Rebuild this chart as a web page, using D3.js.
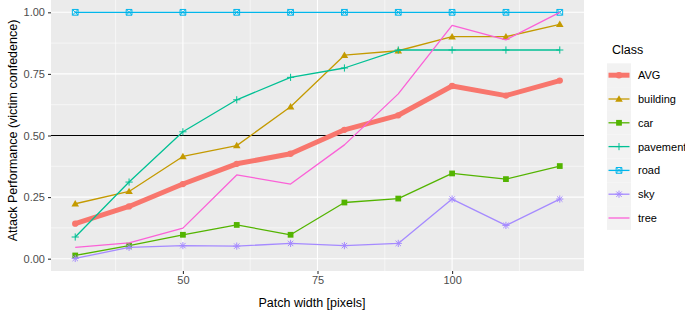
<!DOCTYPE html>
<html><head><meta charset="utf-8">
<script src="https://cdn.jsdelivr.net/npm/d3@7"></script>
<style>body{margin:0;background:#fff}svg{display:block;font-family:"Liberation Sans",Arial,sans-serif}</style>
</head><body><svg id="c" width="685" height="311"></svg>
<script>
const xValues = [30, 40, 50, 60, 70, 80, 90, 100, 110, 120];
const classes = ["AVG", "building", "car", "pavement", "road", "sky", "tree"];
const colors = ["#F8766D", "#C49A00", "#53B400", "#00C094", "#00B6EB", "#A58AFF", "#FB61D7"];
const shapes = ["circle", "triangle", "square", "plus", "squarecross", "asterisk", "none"];
const avgValues      = [0.142, 0.212, 0.303, 0.385, 0.426, 0.523, 0.582, 0.701, 0.662, 0.723];
const buildingValues = [0.223, 0.273, 0.415, 0.459, 0.617, 0.826, 0.844, 0.901, 0.901, 0.951];
const carValues      = [0.013, 0.053, 0.097, 0.137, 0.097, 0.228, 0.244, 0.346, 0.323, 0.376];
const pavementValues = [0.088, 0.311, 0.515, 0.645, 0.736, 0.774, 0.847, 0.847, 0.847, 0.847];
const roadValues     = [1, 1, 1, 1, 1, 1, 1, 1, 1, 1];
const skyValues      = [0.001, 0.046, 0.053, 0.051, 0.062, 0.053, 0.062, 0.242, 0.135, 0.242];
const treeValues     = [0.046, 0.064, 0.124, 0.340, 0.303, 0.462, 0.669, 0.947, 0.888, 1.0];
const seriesValues = [avgValues, buildingValues, carValues, pavementValues, roadValues, skyValues, treeValues];
const xTicks = [50, 75, 100];
const xMinor = [37.5, 62.5, 87.5, 112.5];
const yTicks = [0, 0.25, 0.5, 0.75, 1];
const yTickLabels = ["0.00", "0.25", "0.50", "0.75", "1.00"];
const yMinor = [0.125, 0.375, 0.625, 0.875];
const refLine = 0.5;

const svg = d3.select("#c");
const P = {l: 51, r: 584, t: 0, b: 271};
const x = d3.scaleLinear().domain([25.5, 124.5]).range([P.l, P.r]);
const y = d3.scaleLinear().domain([-0.05, 1.05]).range([P.b, P.t]);

svg.append("rect").attr("x", P.l).attr("y", P.t).attr("width", P.r - P.l).attr("height", P.b - P.t).attr("fill", "#EBEBEB");
const g = svg.append("g");
xMinor.forEach(v => g.append("line").attr("x1", x(v)).attr("x2", x(v)).attr("y1", P.t).attr("y2", P.b).attr("stroke", "#fff").attr("stroke-width", 0.55));
yMinor.forEach(v => g.append("line").attr("y1", y(v)).attr("y2", y(v)).attr("x1", P.l).attr("x2", P.r).attr("stroke", "#fff").attr("stroke-width", 0.55));
xTicks.forEach(v => g.append("line").attr("x1", x(v)).attr("x2", x(v)).attr("y1", P.t).attr("y2", P.b).attr("stroke", "#fff").attr("stroke-width", 1.1));
yTicks.forEach(v => g.append("line").attr("y1", y(v)).attr("y2", y(v)).attr("x1", P.l).attr("x2", P.r).attr("stroke", "#fff").attr("stroke-width", 1.1));

// axes
const xAxis = d3.axisBottom(x).tickValues(xTicks).tickSize(3).tickPadding(2).tickFormat(d3.format("d"));
const xa = svg.append("g").attr("transform", `translate(0,${P.b})`).call(xAxis);
xa.select(".domain").remove();
xa.selectAll("line").attr("stroke", "#333").attr("stroke-width", 1.1);
xa.selectAll("text").attr("fill", "#4D4D4D").style("font-size", "11px").style("font-family", "Liberation Sans, Arial, sans-serif");
const yAxis = d3.axisLeft(y).tickValues(yTicks).tickSize(3).tickPadding(3).tickFormat((d, i) => yTickLabels[i]);
const ya = svg.append("g").attr("transform", `translate(${P.l},0)`).call(yAxis);
ya.select(".domain").remove();
ya.selectAll("line").attr("stroke", "#333").attr("stroke-width", 1.1);
ya.selectAll("text").attr("fill", "#4D4D4D").style("font-size", "11px").style("font-family", "Liberation Sans, Arial, sans-serif");

// reference line
svg.append("line").attr("x1", P.l).attr("x2", P.r).attr("y1", y(refLine)).attr("y2", y(refLine)).attr("stroke", "#000").attr("stroke-width", 1.1);

function marker(sel, shape, color, cx, cy, s) {
  const gg = sel.append("g").attr("transform", `translate(${cx},${cy})`);
  if (shape === "circle") gg.append("circle").attr("r", s * 0.9).attr("fill", color);
  else if (shape === "triangle") gg.append("path").attr("d", `M0,${-s * 1.05}L${s * 1.05},${s * 0.75}L${-s * 1.05},${s * 0.75}Z`).attr("fill", color);
  else if (shape === "square") gg.append("rect").attr("x", -s * 0.8).attr("y", -s * 0.8).attr("width", s * 1.6).attr("height", s * 1.6).attr("fill", color);
  else if (shape === "plus") gg.append("path").attr("d", `M${-s},0H${s}M0,${-s}V${s}`).attr("stroke", color).attr("stroke-width", 1).attr("fill", "none");
  else if (shape === "squarecross") { const a = s * 0.8; gg.append("path").attr("d", `M${-a},${-a}H${a}V${a}H${-a}ZM${-a},${-a}L${a},${a}M${a},${-a}L${-a},${a}`).attr("stroke", color).attr("stroke-width", 1).attr("fill", "none"); }
  else if (shape === "asterisk") { const a = s * 0.75; gg.append("path").attr("d", `M${-s},0H${s}M0,${-s}V${s}M${-a},${-a}L${a},${a}M${a},${-a}L${-a},${a}`).attr("stroke", color).attr("stroke-width", 1).attr("fill", "none"); }
}

const line = d3.line().x(d => x(d[0])).y(d => y(d[1]));
classes.forEach((c, i) => {
  const data = xValues.map((xv, j) => [xv, seriesValues[i][j]]);
  const w = c === "AVG" ? 5 : 1.3;
  svg.append("path").datum(data).attr("d", line).attr("fill", "none").attr("stroke", colors[i]).attr("stroke-width", w).attr("stroke-linejoin", "round").attr("stroke-linecap", c === "AVG" ? "round" : "butt");
  if (shapes[i] !== "none") data.forEach(d => marker(svg, shapes[i], colors[i], x(d[0]), y(d[1]), c === "AVG" ? 3.5 : 3.6));
});

// axis titles
svg.append("text").attr("x", 312).attr("y", 307).attr("text-anchor", "middle").style("font-size", "12.5px").attr("fill", "#000").text("Patch width [pixels]");
svg.append("text").attr("transform", `translate(17,130.5) rotate(-90)`).attr("text-anchor", "middle").style("font-size", "12.5px").attr("fill", "#000").text("Attack Performance (victim confedence)");

// legend
const L = {x: 607, y: 63.3, kw: 24, kh: 23.8};
svg.append("text").attr("x", 612).attr("y", 54).style("font-size", "12.5px").attr("fill", "#000").text("Class");
classes.forEach((c, i) => {
  const ky = L.y + i * L.kh;
  svg.append("rect").attr("x", L.x).attr("y", ky).attr("width", L.kw).attr("height", L.kh).attr("fill", "#F2F2F2");
  svg.append("line").attr("x1", L.x + 1.5).attr("x2", L.x + L.kw - 1.5).attr("y1", ky + L.kh / 2).attr("y2", ky + L.kh / 2).attr("stroke", colors[i]).attr("stroke-width", c === "AVG" ? 5 : 1.3);
  if (shapes[i] !== "none") marker(svg, shapes[i], colors[i], L.x + L.kw / 2, ky + L.kh / 2, 3.6);
  svg.append("text").attr("x", 638).attr("y", ky + L.kh / 2 + 4).style("font-size", "11px").attr("fill", "#000").text(c);
});
</script></body></html>
